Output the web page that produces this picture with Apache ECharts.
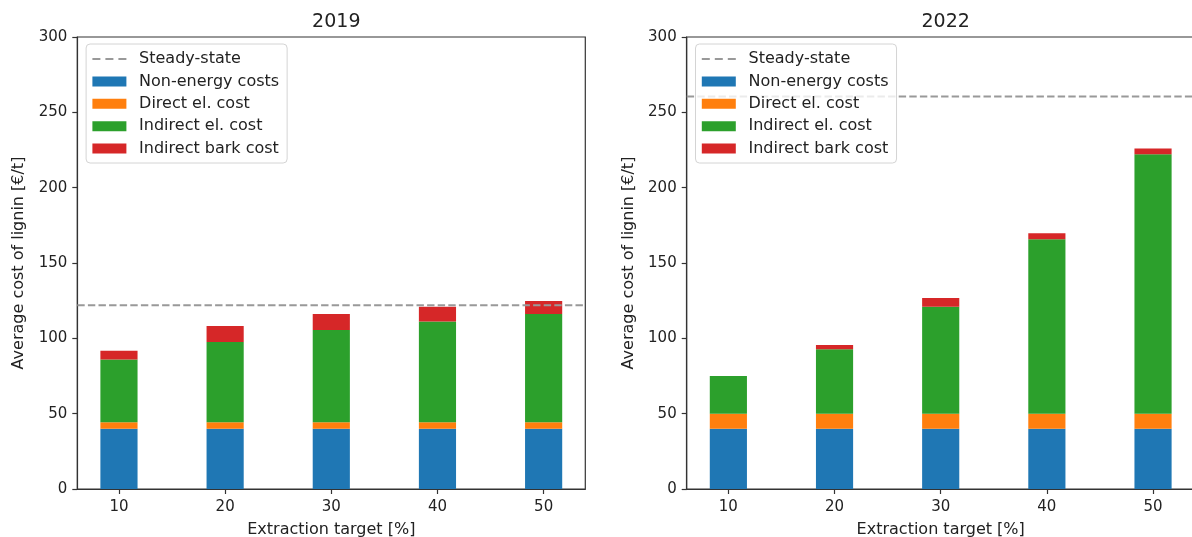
<!DOCTYPE html>
<html>
<head>
<meta charset="utf-8">
<script src="https://cdn.jsdelivr.net/npm/echarts@6/dist/echarts.min.js"></script>
<style>
  html, body { margin: 0; padding: 0; background: #fff; }
  #chart { width: 1192px; height: 537px; }
</style>
</head>
<body>
<div id="chart"></div>
<script>
// Panel titles and the extraction targets shared by both panels
const years = ['2019', '2022'];
const extraction = [10, 20, 30, 40, 50];
const yTicks = [0, 50, 100, 150, 200, 250, 300];

// Cost components, €/t of lignin, per extraction target
const nonEnergy2019  = [40, 40, 40, 40, 40];
const directEl2019   = [4.3, 4.3, 4.3, 4.3, 4.3];
const indirectEl2019 = [41.6, 53.3, 61.2, 66.9, 71.8];
const bark2019       = [5.8, 10.6, 10.6, 9.7, 8.6];
const steady2019     = 122;

const nonEnergy2022  = [40, 40, 40, 40, 40];
const directEl2022   = [10, 10, 10, 10, 10];
const indirectEl2022 = [25, 42.7, 71, 115.7, 172.2];
const bark2022       = [0, 2.9, 5.8, 4.0, 3.8];
const steady2022     = 260.5;

const seriesNames = ['Steady-state', 'Non-energy costs', 'Direct el. cost', 'Indirect el. cost', 'Indirect bark cost'];
const colors = ['#999999', '#1f77b4', '#ff7f0e', '#2ca02c', '#d62728'];

const panels = [
  { year: years[0], parts: [nonEnergy2019, directEl2019, indirectEl2019, bark2019], steady: steady2019 },
  { year: years[1], parts: [nonEnergy2022, directEl2022, indirectEl2022, bark2022], steady: steady2022 }
];

// x range: bars of width 3.5 plus a 5% margin on each side
const BAR_W = 3.5;
const lo = extraction[0] - BAR_W / 2, hi = extraction[extraction.length - 1] + BAR_W / 2;
const pad = (hi - lo) * 0.05;
const X_MIN = lo - pad, X_MAX = hi + pad;

const FONT = 'DejaVu Sans';
const TXT = '#222222';
const SPINE = '#333333';
const gridW = 508, gridH = 452, gridTop = 37;
const gridLefts = [77.3, 686.7];
const barPx = BAR_W / (X_MAX - X_MIN) * gridW;

// legend entries: a dashed line for the reference level, plain rectangles for the bars
const legendData = seriesNames.map((n, k) => (k === 0 ? { name: n } : { name: n, icon: 'rect' }));

const grids = [], xAxes = [], yAxes = [], titles = [], legends = [], series = [];

panels.forEach((p, i) => {
  grids.push({
    left: gridLefts[i], top: gridTop, width: gridW, height: gridH,
    outerBoundsMode: 'none', containLabel: false,
    show: true, borderColor: SPINE, borderWidth: 1.2, backgroundColor: 'transparent'
  });
  xAxes.push({
    type: 'value', gridIndex: i, min: X_MIN, max: X_MAX,
    name: 'Extraction target [%]', nameLocation: 'middle', nameGap: 33,
    nameTextStyle: { fontFamily: FONT, fontSize: 16, color: TXT },
    axisLine: { show: true, lineStyle: { color: SPINE, width: 1.2 } },
    axisTick: { show: true, length: 5, customValues: extraction, lineStyle: { color: SPINE, width: 1.2 } },
    axisLabel: { customValues: extraction, margin: 11, fontFamily: FONT, fontSize: 15, color: TXT },
    splitLine: { show: false }
  });
  yAxes.push({
    type: 'value', gridIndex: i, min: 0, max: 300, interval: 50,
    name: 'Average cost of lignin [€/t]', nameLocation: 'middle', nameGap: 50,
    nameTextStyle: { fontFamily: FONT, fontSize: 16, color: TXT },
    axisLine: { show: true, lineStyle: { color: SPINE, width: 1.2 } },
    axisTick: { show: true, length: 5, lineStyle: { color: SPINE, width: 1.2 } },
    axisLabel: { margin: 10, fontFamily: FONT, fontSize: 15, color: TXT,
                 customValues: yTicks },
    splitLine: { show: false }
  });
  titles.push({
    text: p.year, left: gridLefts[i] + gridW / 2, top: 8, textAlign: 'center',
    textStyle: { fontFamily: FONT, fontSize: 19, fontWeight: 'normal', color: TXT }
  });
  legends.push({
    orient: 'vertical', left: gridLefts[i] + 8.8, top: 44,
    padding: [7, 8, 6.4, 5.3], itemGap: 6.4, itemWidth: 34, itemHeight: 10,
    backgroundColor: 'rgba(255,255,255,0.8)', borderColor: '#d4d4d4', borderWidth: 1, borderRadius: 4,
    lineStyle: { type: [8, 5] },
    textStyle: { fontFamily: FONT, fontSize: 16, color: TXT, padding: [0, 0, 0, 7.7] },
    selectedMode: false,
    data: legendData
  });

  // stacked cost components; values come first so they are the stacked dimension
  p.parts.forEach((arr, k) => {
    series.push({
      type: 'bar', name: seriesNames[k + 1], xAxisIndex: i, yAxisIndex: i,
      stack: 'cost' + i, barWidth: barPx,
      itemStyle: { color: colors[k + 1] },
      encode: { x: 1, y: 0 },
      data: extraction.map((x, j) => [arr[j], x]),
      z: 2
    });
  });

  // steady-state reference level across the whole panel
  series.push({
    type: 'line', name: seriesNames[0], xAxisIndex: i, yAxisIndex: i,
    symbol: 'none', silent: true,
    itemStyle: { color: colors[0], opacity: 0 },
    lineStyle: { color: colors[0], width: 2, type: [7.4, 3.2] },
    data: [[X_MIN, p.steady], [X_MAX, p.steady]],
    z: 3
  });
});

const chart = echarts.init(document.getElementById('chart'), null, { renderer: 'canvas' });
chart.setOption({
  animation: false,
  backgroundColor: '#ffffff',
  title: titles,
  legend: legends,
  grid: grids,
  xAxis: xAxes,
  yAxis: yAxes,
  series: series
});
</script>
</body>
</html>
